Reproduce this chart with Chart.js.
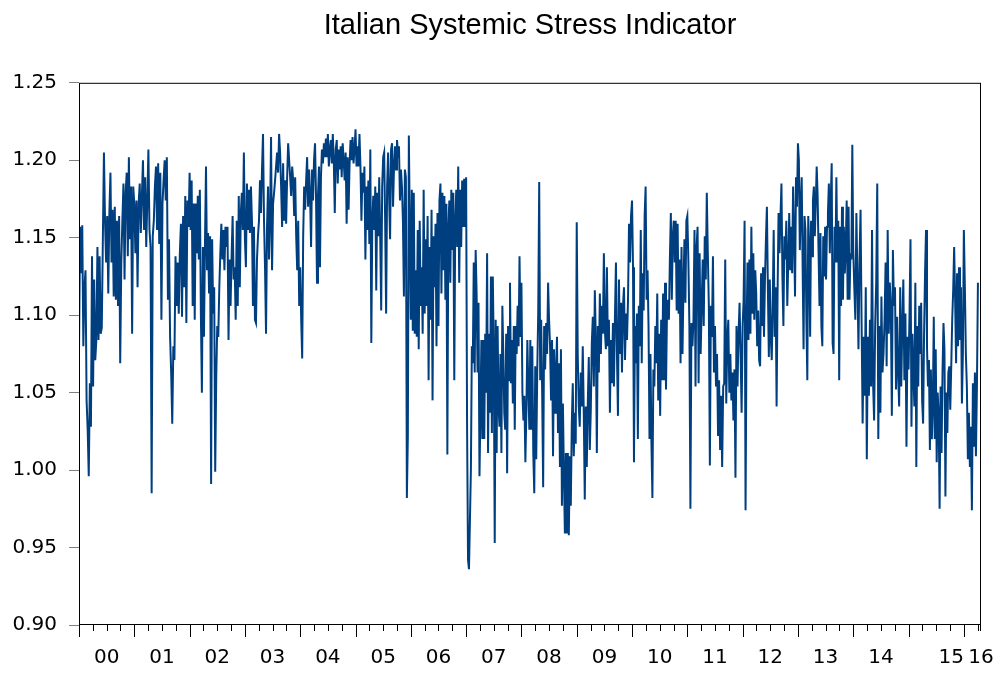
<!DOCTYPE html>
<html>
<head>
<meta charset="utf-8">
<title>Italian Systemic Stress Indicator</title>
<script src="https://cdn.jsdelivr.net/npm/chart.js@4.4.0/dist/chart.umd.min.js"></script>
<style>
  html, body { margin: 0; padding: 0; background: #fff; }
</style>
</head>
<body>
<canvas id="myChart" width="1000" height="675"></canvas>
<script>
// weekly readings, one array per year
var y2000 = [1.075, 1.157, 1.127, 1.158, 1.080, 1.118, 1.129, 1.045, 1.026, 0.996, 1.056, 1.028, 1.138, 1.054, 1.123, 1.071, 1.084, 1.144, 1.084, 1.138, 1.088, 1.092, 1.149, 1.205, 1.161, 1.134, 1.164, 1.114, 1.166, 1.192, 1.134, 1.168, 1.112, 1.170, 1.110, 1.161, 1.106, 1.164, 1.069, 1.134, 1.161, 1.185, 1.123, 1.179, 1.192, 1.138, 1.202, 1.149, 1.183, 1.088, 1.183];
var y2001 = [1.172, 1.140, 1.174, 1.118, 1.172, 1.185, 1.153, 1.177, 1.200, 1.155, 1.189, 1.144, 1.174, 1.207, 1.155, 1.144, 0.985, 1.151, 1.161, 1.183, 1.196, 1.155, 1.198, 1.146, 1.192, 1.097, 1.172, 1.187, 1.200, 1.174, 1.202, 1.110, 1.149, 1.086, 1.063, 1.030, 1.080, 1.071, 1.138, 1.106, 1.134, 1.101, 1.140, 1.159, 1.099, 1.164, 1.118, 1.177, 1.095, 1.174, 1.157];
var y2002 = [1.192, 1.155, 1.187, 1.106, 1.172, 1.097, 1.172, 1.140, 1.177, 1.136, 1.181, 1.101, 1.050, 1.144, 1.086, 1.146, 1.196, 1.129, 1.153, 1.114, 1.151, 0.991, 1.149, 1.101, 1.118, 0.999, 1.060, 1.093, 1.086, 1.118, 1.140, 1.159, 1.136, 1.155, 1.129, 1.157, 1.144, 1.157, 1.084, 1.136, 1.106, 1.138, 1.164, 1.123, 1.131, 1.097, 1.161, 1.106, 1.177, 1.118, 1.166, 1.179, 1.155, 1.205];
var y2003 = [1.149, 1.131, 1.185, 1.155, 1.181, 1.153, 1.183, 1.161, 1.106, 1.157, 1.097, 1.095, 1.136, 1.151, 1.161, 1.187, 1.166, 1.194, 1.217, 1.161, 1.131, 1.088, 1.157, 1.183, 1.136, 1.161, 1.215, 1.129, 1.172, 1.179, 1.187, 1.196, 1.205, 1.192, 1.217, 1.205, 1.183, 1.157, 1.198, 1.161, 1.187, 1.159, 1.189, 1.211, 1.200, 1.189, 1.177, 1.196, 1.187, 1.164, 1.189, 1.151, 1.129, 1.161, 1.106];
var y2004 = [1.131, 1.097, 1.072, 1.151, 1.183, 1.168, 1.187, 1.202, 1.170, 1.194, 1.177, 1.144, 1.194, 1.174, 1.200, 1.211, 1.177, 1.121, 1.177, 1.196, 1.131, 1.189, 1.207, 1.198, 1.211, 1.202, 1.214, 1.202, 1.217, 1.196, 1.207, 1.213, 1.198, 1.217, 1.200, 1.166, 1.207, 1.213, 1.185, 1.207, 1.194, 1.209, 1.189, 1.211, 1.200, 1.187, 1.205, 1.159, 1.202, 1.168, 1.198, 1.213, 1.200, 1.215, 1.198, 1.207];
var y2005 = [1.220, 1.196, 1.209, 1.196, 1.217, 1.196, 1.161, 1.192, 1.179, 1.196, 1.136, 1.183, 1.155, 1.187, 1.146, 1.207, 1.082, 1.161, 1.177, 1.155, 1.183, 1.116, 1.179, 1.151, 1.189, 1.151, 1.103, 1.183, 1.202, 1.205, 1.161, 1.101, 1.183, 1.205, 1.177, 1.149, 1.207, 1.211, 1.170, 1.196, 1.209, 1.194, 1.213, 1.205, 1.209, 1.174, 1.194, 1.183, 1.161, 1.112, 1.194, 1.189, 0.982, 1.022, 1.216, 1.155];
var y2006 = [1.097, 1.181, 1.090, 1.179, 1.088, 1.129, 1.086, 1.155, 1.078, 1.161, 1.106, 1.131, 1.088, 1.181, 1.101, 1.149, 1.106, 1.164, 1.058, 1.144, 1.097, 1.168, 1.045, 1.151, 1.118, 1.159, 1.080, 1.166, 1.093, 1.174, 1.185, 1.114, 1.179, 1.129, 1.177, 1.110, 1.172, 1.010, 1.157, 1.174, 1.121, 1.181, 1.142, 1.179, 1.058, 1.161, 1.181, 1.144, 1.196, 1.121, 1.181, 1.144, 1.187, 1.157, 1.188, 1.157];
var y2007 = [1.189, 1.028, 0.942, 0.936, 0.968, 1.000, 1.080, 1.069, 1.134, 1.063, 1.142, 1.114, 1.063, 1.108, 0.996, 1.037, 1.084, 1.020, 1.084, 1.020, 1.088, 1.050, 1.140, 1.011, 1.088, 1.037, 1.125, 1.024, 1.125, 1.075, 0.953, 1.097, 1.011, 1.093, 1.041, 1.028, 1.075, 1.011, 1.106, 1.075, 1.037, 1.026, 1.088, 0.998, 1.093, 1.058, 1.121, 1.056, 1.084, 1.043, 1.093, 1.026, 1.093, 1.075, 1.106, 1.080, 1.138, 1.086];
var y2008 = [1.121, 1.050, 1.032, 1.048, 1.005, 1.037, 1.084, 1.054, 1.026, 1.084, 1.026, 1.080, 1.011, 0.985, 1.067, 1.007, 1.063, 1.101, 1.186, 1.058, 1.097, 1.050, 0.989, 1.093, 1.065, 1.095, 1.075, 1.121, 1.097, 1.080, 1.045, 1.084, 1.009, 1.078, 1.037, 1.063, 1.086, 1.024, 1.069, 1.002, 1.078, 0.977, 1.043, 0.998, 0.959, 1.011, 0.959, 1.011, 0.958, 1.009, 0.977, 1.030, 1.056, 1.009, 1.037, 1.017];
var y2009 = [1.160, 1.075, 1.041, 1.028, 1.063, 1.041, 1.080, 1.037, 0.981, 1.041, 1.002, 1.043, 1.073, 1.013, 1.039, 1.082, 1.099, 1.054, 1.116, 1.084, 1.011, 1.093, 1.063, 1.114, 1.075, 1.106, 1.088, 1.140, 1.090, 1.078, 1.131, 1.080, 1.097, 1.037, 1.084, 1.056, 1.095, 1.054, 1.099, 1.134, 1.075, 1.035, 1.123, 1.075, 1.108, 1.063, 1.106, 1.118, 1.071, 1.101, 1.084, 1.110, 1.159, 1.134, 1.164];
var y2010 = [1.174, 1.131, 1.005, 1.093, 1.069, 1.101, 1.020, 1.106, 1.080, 1.155, 1.069, 1.127, 1.103, 1.164, 1.183, 1.110, 1.129, 1.093, 1.020, 1.075, 1.017, 0.982, 1.065, 1.054, 1.093, 1.069, 1.114, 1.045, 1.088, 1.035, 1.097, 1.058, 1.114, 1.058, 1.121, 1.052, 1.101, 1.110, 1.097, 1.136, 1.166, 1.110, 1.151, 1.161, 1.134, 1.161, 1.103, 1.159, 1.101, 1.136, 1.069, 1.144, 1.075, 1.118, 1.149, 1.108, 1.161];
var y2011 = [1.164, 1.136, 1.093, 0.975, 1.095, 1.080, 1.097, 1.155, 1.054, 1.144, 1.157, 1.056, 1.140, 1.075, 1.106, 1.136, 1.093, 1.151, 1.123, 1.179, 1.140, 1.106, 1.003, 1.106, 1.086, 1.138, 1.063, 1.093, 1.054, 1.075, 1.022, 1.058, 1.013, 1.048, 1.002, 1.054, 1.056, 1.136, 1.043, 1.084, 1.097, 1.050, 1.075, 1.045, 1.063, 1.032, 1.065, 0.995, 1.093, 1.054, 1.088, 1.108, 1.075, 1.037];
var y2012 = [1.093, 1.110, 1.161, 0.974, 1.088, 1.134, 1.084, 1.136, 1.088, 1.157, 1.101, 1.140, 1.097, 1.129, 1.114, 1.080, 1.103, 1.071, 1.067, 1.127, 1.093, 1.131, 1.086, 1.123, 1.149, 1.170, 1.118, 1.073, 1.123, 1.086, 1.071, 1.108, 1.155, 1.086, 1.118, 1.041, 1.114, 1.166, 1.140, 1.164, 1.185, 1.125, 1.093, 1.151, 1.136, 1.161, 1.106, 1.134, 1.166, 1.129, 1.157, 1.127, 1.183, 1.151, 1.112, 1.189, 1.170];
var y2013 = [1.211, 1.200, 1.142, 1.170, 1.189, 1.131, 1.078, 1.164, 1.155, 1.097, 1.058, 1.164, 1.144, 1.086, 1.161, 1.138, 1.174, 1.183, 1.151, 1.172, 1.196, 1.177, 1.140, 1.106, 1.153, 1.093, 1.080, 1.151, 1.125, 1.157, 1.123, 1.157, 1.166, 1.185, 1.140, 1.174, 1.198, 1.082, 1.075, 1.157, 1.134, 1.189, 1.134, 1.161, 1.058, 1.157, 1.106, 1.170, 1.110, 1.157, 1.127, 1.144, 1.174, 1.110, 1.170, 1.110, 1.140, 1.136, 1.210];
var y2014 = [1.142, 1.118, 1.097, 1.166, 1.123, 1.078, 1.136, 1.168, 1.095, 1.030, 1.086, 1.048, 1.118, 1.007, 1.086, 1.048, 1.097, 1.054, 1.155, 1.056, 1.032, 1.093, 1.121, 1.185, 1.020, 1.093, 1.037, 1.112, 1.063, 1.075, 1.097, 1.134, 1.067, 1.155, 1.088, 1.121, 1.106, 1.035, 1.142, 1.106, 1.118, 1.052, 1.099, 1.063, 1.041, 1.118, 1.054, 1.093, 1.123, 1.058, 1.101, 1.015, 1.086];
var y2015 = [1.065, 1.101, 1.149, 1.028, 1.088, 1.063, 1.041, 1.121, 1.002, 1.093, 1.054, 1.106, 1.075, 1.108, 1.045, 1.030, 1.088, 1.127, 1.155, 1.080, 1.054, 1.071, 1.013, 1.065, 1.020, 1.041, 1.099, 1.020, 1.078, 1.005, 1.050, 1.037, 0.975, 1.054, 1.011, 1.063, 1.095, 1.078, 0.983, 1.050, 1.024, 1.063, 1.067, 1.039, 1.067, 1.097, 1.116, 1.144, 1.110, 1.069, 1.127, 1.080, 1.131, 1.084, 1.118, 1.043, 1.075];
var y2016 = [1.155, 1.118, 1.075, 1.054, 1.007, 1.037, 1.002, 1.028, 0.974, 1.056, 1.015, 1.063, 1.009, 1.054, 1.121];

var yearLabels = ['00', '01', '02', '03', '04', '05', '06', '07', '08', '09', '10', '11', '12', '13', '14', '15', '16'];
var labelAt = [2000.5, 2001.5, 2002.5, 2003.5, 2004.5, 2005.5, 2006.5, 2007.5, 2008.5, 2009.5, 2010.5, 2011.5, 2012.5, 2013.5, 2014.5, 2015.77, 2016.31];
var yTicks = [0.90, 0.95, 1.00, 1.05, 1.10, 1.15, 1.20, 1.25];

var years = [y2000, y2001, y2002, y2003, y2004, y2005, y2006, y2007, y2008, y2009, y2010, y2011, y2012, y2013, y2014, y2015, y2016];
var points = [];
years.forEach(function (vals, k) {
  var step = k < 16 ? 1 / vals.length : 1 / 55; // last year is partial
  vals.forEach(function (v, i) {
    points.push({ x: 2000 + k + i * step, y: v });
  });
});

// frame and quarterly tick marks under the plot
var axisMarks = {
  id: 'axisMarks',
  afterDraw: function (chart) {
    var ctx = chart.ctx, a = chart.chartArea, xs = chart.scales.x;
    ctx.save();
    ctx.strokeStyle = '#000';
    ctx.lineWidth = 1;
    ctx.strokeRect(a.left + 0.5, a.top + 0.5, a.right - a.left - 1, a.bottom - a.top - 1);
    ctx.beginPath();
    for (var q = 0; q <= 65; q++) {
      var px = Math.round(xs.getPixelForValue(2000 + q / 4)) + 0.5;
      var len = q % 4 === 0 ? 12 : 6;
      ctx.moveTo(px, a.bottom);
      ctx.lineTo(px, a.bottom + len);
    }
    ctx.moveTo(a.right - 0.5, a.bottom);
    ctx.lineTo(a.right - 0.5, a.bottom + 6);
    ctx.stroke();
    ctx.restore();
  }
};

var ctx = document.getElementById('myChart').getContext('2d');
var myChart = new Chart(ctx, {
  type: 'line',
  data: {
    datasets: [{
      label: 'Italian Systemic Stress Indicator',
      data: points,
      borderColor: '#003f7f',
      borderWidth: 2,
      pointRadius: 0,
      tension: 0,
      fill: false
    }]
  },
  options: {
    responsive: false,
    animation: false,
    layout: { padding: { left: 0, right: 19, top: 0, bottom: 0 } },
    plugins: {
      legend: { display: false },
      tooltip: { enabled: false },
      title: {
        display: true,
        fullSize: false,
        text: 'Italian Systemic Stress Indicator',
        color: '#000',
        font: { family: 'Liberation Sans, Arial, sans-serif', size: 29, weight: 'normal' },
        padding: { top: 9, bottom: 39 }
      }
    },
    scales: {
      x: {
        type: 'linear',
        min: 2000,
        max: 2016.31,
        grid: { display: false, drawTicks: false },
        border: { display: false },
        afterBuildTicks: function (scale) {
          scale.ticks = labelAt.map(function (v) { return { value: v }; });
        },
        afterFit: function (scale) {
          scale.height = 50;
          scale.paddingLeft = 0;
          scale.paddingRight = 0;
        },
        ticks: {
          autoSkip: false,
          maxRotation: 0,
          padding: 21,
          color: '#000',
          font: { family: 'DejaVu Sans', size: 20 },
          callback: function (value, index) { return yearLabels[index]; }
        }
      },
      y: {
        min: 0.9,
        max: 1.25,
        afterBuildTicks: function (scale) {
          scale.ticks = yTicks.map(function (v) { return { value: v }; });
        },
        afterFit: function (scale) {
          scale.width = 79;
          scale.paddingTop = 0;
          scale.paddingBottom = 0;
        },
        grid: { drawOnChartArea: false, drawTicks: true, tickLength: 10, color: '#808080' },
        border: { display: false },
        ticks: {
          padding: 12,
          color: '#000',
          font: { family: 'DejaVu Sans', size: 20 },
          callback: function (value) { return value.toFixed(2); }
        }
      }
    }
  },
  plugins: [axisMarks]
});
</script>
</body>
</html>
